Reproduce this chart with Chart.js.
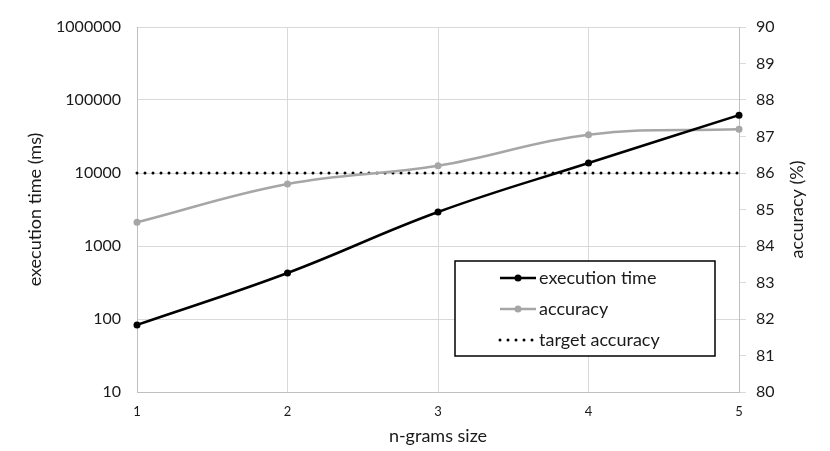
<!DOCTYPE html>
<html>
<head>
<meta charset="utf-8">
<script src="https://cdn.jsdelivr.net/npm/chart.js@4/dist/chart.umd.min.js"></script>
<style>
  html, body { margin: 0; padding: 0; background: #fff; }
  #wrap { width: 830px; height: 451px; }
</style>
</head>
<body>
<div id="wrap"><canvas id="ngramChart"></canvas></div>
<script>
const ngramSizes = ['1', '2', '3', '4', '5'];
const execTimeMs = [83, 427, 2920, 13700, 62000];
const accuracyPct = [84.65, 85.7, 86.2, 87.05, 87.2];
const targetAccuracy = [86, 86, 86, 86, 86];
const timeTicks = [10, 100, 1000, 10000, 100000, 1000000];

const FONT = 'Lato, "Open Sans", sans-serif';
const TEXT = '#1a1a1a';
const GRID = '#d9d9d9';

// legend box drawn inside the plot, like the original
const boxLegend = {
    id: 'boxLegend',
    afterDraw(chart) {
        const c = chart.ctx;
        const x = 455, y = 261, w = 260, h = 95;
        c.save();
        c.fillStyle = '#fff';
        c.fillRect(x, y, w, h);
        c.strokeStyle = '#000';
        c.lineWidth = 1.5;
        c.strokeRect(x, y, w, h);
        c.font = '18px ' + FONT;
        c.textBaseline = 'middle';
        chart.data.datasets.forEach((ds, i) => {
            const ly = y + 17 + i * 31;
            c.strokeStyle = ds.borderColor;
            c.lineWidth = ds.borderWidth;
            c.lineCap = ds.borderCapStyle || 'butt';
            c.setLineDash(ds.borderDash || []);
            c.beginPath();
            c.moveTo(500, ly);
            c.lineTo(536, ly);
            c.stroke();
            c.setLineDash([]);
            if (ds.pointRadius) {
                c.fillStyle = ds.pointBackgroundColor;
                c.beginPath();
                c.arc(518, ly, ds.pointRadius, 0, Math.PI * 2);
                c.fill();
            }
            c.fillStyle = TEXT;
            c.fillText(ds.label, 539, ly);
        });
        c.restore();
    }
};

// right axis title reads bottom-to-top in the original
const rightTitle = {
    id: 'rightTitle',
    afterDraw(chart) {
        const c = chart.ctx;
        const area = chart.chartArea;
        c.save();
        c.translate(797, (area.top + area.bottom) / 2);
        c.rotate(-Math.PI / 2);
        c.font = '18px ' + FONT;
        c.fillStyle = TEXT;
        c.textAlign = 'center';
        c.textBaseline = 'middle';
        c.fillText('accuracy (%)', 0, 0);
        c.restore();
    }
};

new Chart(document.getElementById('ngramChart'), {
    type: 'line',
    data: {
        labels: ngramSizes,
        datasets: [
            {
                label: 'execution time',
                data: execTimeMs,
                yAxisID: 'y',
                borderColor: '#000',
                backgroundColor: '#000',
                pointBackgroundColor: '#000',
                pointBorderWidth: 0,
                pointRadius: 3.5,
                borderWidth: 2.5,
                tension: 0.4,
                clip: false
            },
            {
                label: 'accuracy',
                data: accuracyPct,
                yAxisID: 'y2',
                borderColor: '#a6a6a6',
                backgroundColor: '#a6a6a6',
                pointBackgroundColor: '#a6a6a6',
                pointBorderWidth: 0,
                pointRadius: 3.5,
                borderWidth: 2.5,
                tension: 0.4,
                clip: false
            },
            {
                label: 'target accuracy',
                data: targetAccuracy,
                yAxisID: 'y2',
                borderColor: '#000',
                borderWidth: 3,
                borderDash: [0, 8],
                borderCapStyle: 'round',
                pointRadius: 0,
                tension: 0,
                clip: false
            }
        ]
    },
    options: {
        responsive: true,
        maintainAspectRatio: false,
        animation: false,
        layout: { padding: { top: 27 } },
        plugins: {
            legend: { display: false },
            tooltip: { enabled: false }
        },
        scales: {
            x: {
                type: 'category',
                offset: false,
                grid: { color: GRID, drawTicks: false },
                border: { color: '#bfbfbf' },
                ticks: { color: TEXT, font: { family: FONT, size: 13 }, padding: 12 },
                title: {
                    display: true,
                    text: 'n-grams size',
                    color: TEXT,
                    font: { family: FONT, size: 18 },
                    padding: { top: 2 }
                },
                afterFit(s) { s.height = 59; }
            },
            y: {
                type: 'logarithmic',
                position: 'left',
                min: 10,
                max: 1000000,
                afterBuildTicks(s) { s.ticks = timeTicks.map(v => ({ value: v })); },
                grid: { color: GRID, drawTicks: false },
                border: { color: '#bfbfbf' },
                ticks: {
                    color: TEXT,
                    font: { family: FONT, size: 16 },
                    padding: 16,
                    callback: v => String(v)
                },
                title: {
                    display: true,
                    text: 'execution time (ms)',
                    color: TEXT,
                    font: { family: FONT, size: 18 },
                    padding: { top: 24, bottom: 0 }
                },
                afterFit(s) { s.width = 137; }
            },
            y2: {
                type: 'linear',
                position: 'right',
                min: 80,
                max: 90,
                grid: { drawOnChartArea: false, color: GRID, tickLength: 7 },
                border: { color: '#bfbfbf' },
                ticks: {
                    stepSize: 1,
                    color: TEXT,
                    font: { family: FONT, size: 16 },
                    padding: 10
                },
                afterFit(s) { s.width = 91; }
            }
        }
    },
    plugins: [boxLegend, rightTitle]
});
</script>
</body>
</html>
